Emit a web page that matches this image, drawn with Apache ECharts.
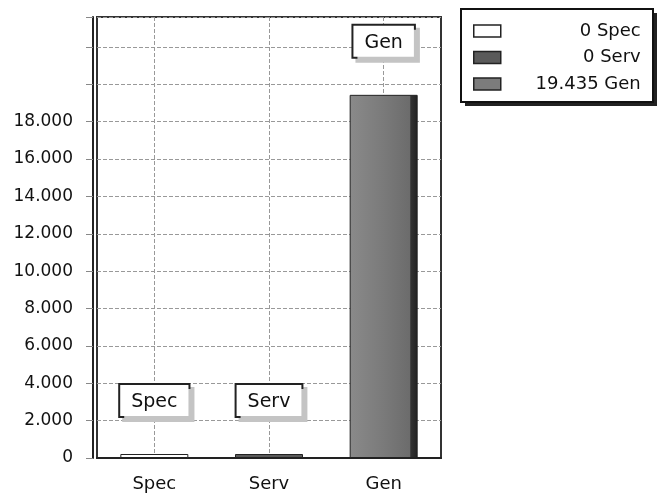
<!DOCTYPE html>
<html><head><meta charset="utf-8">
<script src="https://cdn.jsdelivr.net/npm/echarts@6/dist/echarts.min.js"></script>
<style>html,body{margin:0;padding:0;background:#fff}#c{width:657px;height:496px}</style>
</head><body><div id="c"></div>
<script>
const categories = ['Spec', 'Serv', 'Gen'];
const values = [0, 0, 19435];
const yTicksShown = [0, 2000, 4000, 6000, 8000, 10000, 12000, 14000, 16000, 18000];

function fmt(v) { return String(v).replace(/\B(?=(\d{3})+(?!\d))/g, '.'); }

const colors = ['#ffffff', '#5a5a5a', '#7c7c7c'];
const FONT = 'DejaVu Sans';

const series = categories.map((name, i) => ({
  name: name,
  type: 'bar',
  barWidth: 68,
  barGap: '-100%',
  barMinHeight: 4,
  data: categories.map((c, j) => j === i ? values[i] : '-'),
  itemStyle: i === 2 ? {
    color: { type: 'linear', x: 0, y: 0, x2: 1, y2: 0, colorStops: [
      { offset: 0, color: '#8a8a8a' }, { offset: 0.5, color: '#7a7a7a' },
      { offset: 0.88, color: '#6c6c6c' }, { offset: 0.9, color: '#333' }, { offset: 1, color: '#222' }] },
    borderColor: '#222', borderWidth: 1
  } : { color: colors[i], borderColor: '#222', borderWidth: 1 },
  label: {
    show: true, position: 'top', distance: 38,
    formatter: '{b}',
    fontFamily: FONT, fontSize: 19, color: '#111', lineHeight: 22,
    backgroundColor: '#fff', borderColor: '#222', borderWidth: 2,
    padding: [6, 11, 3, 11],
    shadowColor: '#c4c4c4', shadowOffsetX: 4, shadowOffsetY: 4, shadowBlur: 0
  }
}));

const chart = echarts.init(document.getElementById('c'));
chart.setOption({
  animation: false,
  backgroundColor: '#fff',
  graphic: [
    { type: 'rect', shape: { x: 465, y: 13, width: 192, height: 93 }, style: { fill: '#222' }, z: 1 },
    { type: 'rect', shape: { x: 461, y: 9, width: 192, height: 93 }, style: { fill: '#fff', stroke: '#111', lineWidth: 2 }, z: 2 }
  ],
  grid: { left: 97, top: 17, right: 216, bottom: 38, show: true, borderColor: '#333', borderWidth: 2 },
  legend: {
    orient: 'vertical', left: 473, top: 22, padding: 0, z: 5,
    itemWidth: 27, itemHeight: 12, itemGap: 8.5,
    icon: 'rect',
    data: categories.map((c, i) => ({ name: c, itemStyle: { color: colors[i], borderColor: '#222', borderWidth: 1.5 } })),
    formatter: name => '{t|' + fmt(values[categories.indexOf(name)]) + ' ' + name + '}',
    textStyle: { fontFamily: FONT, fontSize: 18, color: '#111',
      rich: { t: { fontFamily: FONT, fontSize: 18, color: '#111', width: 135, align: 'right' } } }
  },
  xAxis: {
    type: 'category', data: categories,
    axisLine: { lineStyle: { color: '#222', width: 2 } },
    axisTick: { show: false },
    axisLabel: { margin: 17, fontFamily: FONT, fontSize: 18, color: '#111' },
    splitLine: { show: true, alignWithLabel: true, lineStyle: { color: '#999', type: 'dashed' } }
  },
  yAxis: {
    type: 'value', min: 0, max: 23600, interval: 2000, offset: 4,
    axisLine: { show: true, lineStyle: { color: '#222', width: 2 } },
    axisTick: { show: true, length: 7, lineStyle: { color: '#888' } },
    axisLabel: { margin: 20, fontFamily: FONT, fontSize: 17, color: '#111',
      formatter: v => yTicksShown.indexOf(v) >= 0 ? fmt(v) : '' },
    splitLine: { show: true, lineStyle: { color: '#999', type: 'dashed' } }
  },
  series: series
});
</script></body></html>
